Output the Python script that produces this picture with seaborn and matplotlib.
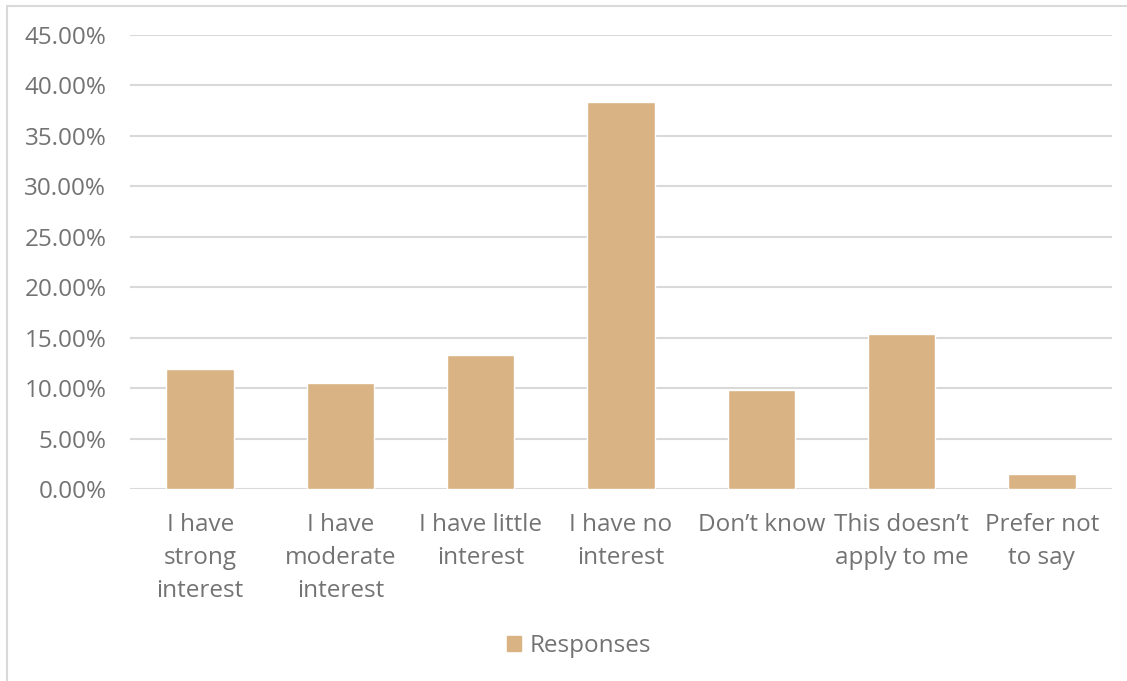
import matplotlib
matplotlib.use("Agg")
import matplotlib.pyplot as plt
import matplotlib.patches as mpatches
import matplotlib.ticker as mtick
import seaborn as sns
import pandas as pd

categories = ["I have\nstrong\ninterest", "I have\nmoderate\ninterest", "I have little\ninterest",
              "I have no\ninterest", "Don\u2019t know", "This doesn\u2019t\napply to me", "Prefer not\nto say"]
responses = [11.92, 10.53, 13.31, 38.32, 9.83, 15.37, 1.46]
series_name = "Responses"

bar_color = "#D9B384"
text_color = "#737373"
grid_color = "#D9D9D9"

sns.set_theme(style="white")
plt.rcParams["font.family"] = ["Open Sans", "DejaVu Sans"]

df = pd.DataFrame({"category": categories, "value": responses})

fig = plt.figure(figsize=(11.27, 6.81), dpi=100)
ax = fig.add_axes([130 / 1127, 1 - 489 / 681, (1112 - 130) / 1127, (489 - 35) / 681])

sns.barplot(data=df, x="category", y="value", color=bar_color, width=0.48,
            saturation=1, ax=ax, zorder=3)

ax.set_ylim(0, 45)
ax.set_yticks(range(0, 50, 5))
ax.yaxis.set_major_formatter(mtick.FuncFormatter(lambda v, p: "{:.2f}%".format(v)))
ax.set_xlim(-0.5, len(categories) - 0.5)
ax.grid(axis="y", color=grid_color, linewidth=1.5, zorder=0)
ax.set_axisbelow(True)
for s in ax.spines.values():
    s.set_visible(False)
ax.set_xlabel("")
ax.set_ylabel("")
ax.tick_params(axis="both", length=0, labelsize=17.5, colors=text_color)
ax.tick_params(axis="y", pad=17)
ax.tick_params(axis="x", pad=17)
for lbl in ax.get_xticklabels():
    lbl.set_linespacing(1.5)
    lbl.set_verticalalignment("top")

handle = mpatches.Patch(color=bar_color, label=series_name)
leg = fig.legend(handles=[handle], loc="center", bbox_to_anchor=(579 / 1127, 1 - 646 / 681),
                 frameon=False, fontsize=17.5, handlelength=0.6, handleheight=0.6,
                 handletextpad=0.35)
for t in leg.get_texts():
    t.set_color(text_color)

# chart border (left and top edges visible)
fig.patches.append(mpatches.Rectangle((6.5 / 1127, -0.1), 1.2, 1 - 6.5 / 681 + 0.1,
                                      transform=fig.transFigure, fill=False,
                                      edgecolor=grid_color, linewidth=1.5))

fig.savefig("out.png", dpi=100)
